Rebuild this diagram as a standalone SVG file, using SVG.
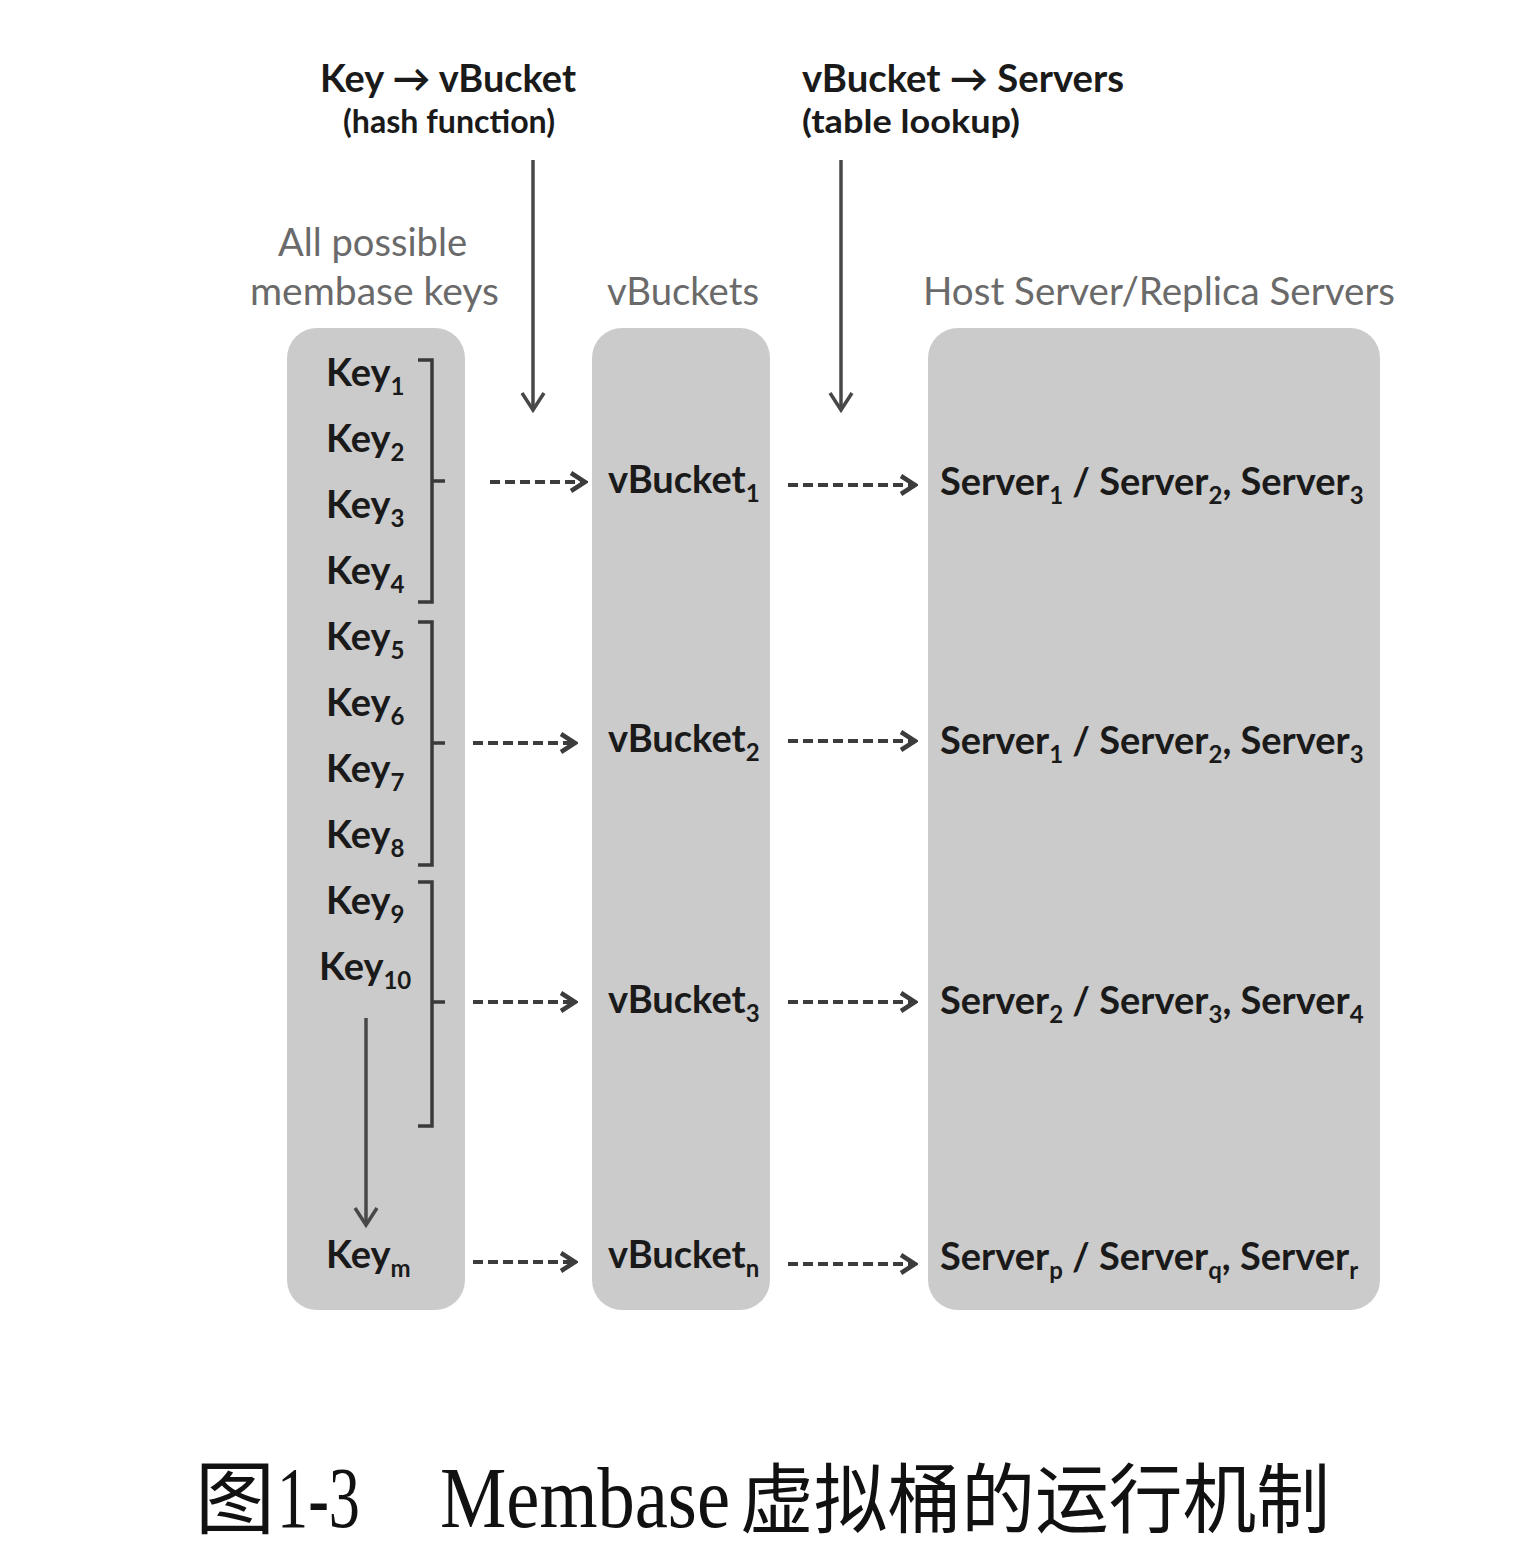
<svg xmlns="http://www.w3.org/2000/svg" width="1524" height="1552" viewBox="0 0 1524 1552">
<defs>
<style>
.panel{fill:#cbcbcb;}
.hdr{font-family:Lato,"Liberation Sans",sans-serif;font-weight:bold;fill:#1a1a1a;}
.ttl{font-family:Lato,"Liberation Sans",sans-serif;fill:#6a6a6a;font-size:38px;}
.lbl{font-family:Lato,"Liberation Sans",sans-serif;font-weight:bold;fill:#1a1a1a;font-size:38px;}
.sub{font-size:24px;}
.solid{stroke:#484848;stroke-width:3.5;fill:none;}
.dash{stroke:#3c3c3c;stroke-width:4;fill:none;stroke-dasharray:10 5;}
.brk{stroke:#3a3a3a;stroke-width:3.5;fill:none;}
.cap{font-family:"Liberation Serif","Noto Sans CJK SC",serif;fill:#111;}
</style>
<marker id="chev" viewBox="0 0 24 24" refX="21" refY="12" markerWidth="24" markerHeight="24" markerUnits="userSpaceOnUse" orient="auto">
<polyline points="7,3 21,12 7,21" fill="none" stroke="#3c3c3c" stroke-width="4.5"/>
</marker>
<marker id="chevV" viewBox="0 0 28 28" refX="25" refY="14" markerWidth="28" markerHeight="28" markerUnits="userSpaceOnUse" orient="auto">
<polyline points="8,3 25,14 8,25" fill="none" stroke="#484848" stroke-width="3.5"/>
</marker>
</defs>
<rect width="1524" height="1552" fill="#fff"/>

<g id="header-hash">
<text class="hdr" x="320" y="92" font-size="38" textLength="256" lengthAdjust="spacingAndGlyphs">Key → vBucket</text>
<text class="hdr" x="343" y="133" font-size="33" textLength="212" lengthAdjust="spacingAndGlyphs">(hash function)</text>
</g>
<g id="header-lookup">
<text class="hdr" x="802" y="92" font-size="38" textLength="322" lengthAdjust="spacingAndGlyphs">vBucket → Servers</text>
<text class="hdr" x="802" y="133" font-size="33" textLength="218" lengthAdjust="spacingAndGlyphs">(table lookup)</text>
</g>

<g id="keys-panel">
<text class="ttl" x="278" y="256" textLength="189" lengthAdjust="spacingAndGlyphs">All possible</text>
<text class="ttl" x="250" y="305" textLength="249" lengthAdjust="spacingAndGlyphs">membase keys</text>
<rect class="panel" x="287" y="328" width="178" height="982" rx="30"/>
<text class="lbl" x="326" y="386">Key<tspan class="sub" dy="9">1</tspan></text>
<text class="lbl" x="326" y="452">Key<tspan class="sub" dy="9">2</tspan></text>
<text class="lbl" x="326" y="518">Key<tspan class="sub" dy="9">3</tspan></text>
<text class="lbl" x="326" y="584">Key<tspan class="sub" dy="9">4</tspan></text>
<text class="lbl" x="326" y="650">Key<tspan class="sub" dy="9">5</tspan></text>
<text class="lbl" x="326" y="716">Key<tspan class="sub" dy="9">6</tspan></text>
<text class="lbl" x="326" y="782">Key<tspan class="sub" dy="9">7</tspan></text>
<text class="lbl" x="326" y="848">Key<tspan class="sub" dy="9">8</tspan></text>
<text class="lbl" x="326" y="914">Key<tspan class="sub" dy="9">9</tspan></text>
<text class="lbl" x="319" y="980">Key<tspan class="sub" dy="9">10</tspan></text>
<text class="lbl" x="326" y="1268">Key<tspan class="sub" dy="9">m</tspan></text>
<path class="brk" d="M418,360 H432 V602 H418 M432,481 H445"/>
<path class="brk" d="M418,622 H432 V865 H418 M432,743 H445"/>
<path class="brk" d="M418,882 H432 V1126 H418 M432,1002 H445"/>
</g>

<g id="vbuckets-panel">
<text class="ttl" x="607" y="305" textLength="152" lengthAdjust="spacingAndGlyphs">vBuckets</text>
<rect class="panel" x="592" y="328" width="178" height="982" rx="30"/>
<text class="lbl" x="608" y="493">vBucket<tspan class="sub" dy="9">1</tspan></text>
<text class="lbl" x="608" y="752">vBucket<tspan class="sub" dy="9">2</tspan></text>
<text class="lbl" x="608" y="1013">vBucket<tspan class="sub" dy="9">3</tspan></text>
<text class="lbl" x="608" y="1268">vBucket<tspan class="sub" dy="9">n</tspan></text>
</g>

<g id="servers-panel">
<text class="ttl" x="923" y="305" textLength="472" lengthAdjust="spacingAndGlyphs">Host Server/Replica Servers</text>
<rect class="panel" x="928" y="328" width="452" height="982" rx="30"/>
<text class="lbl" x="940" y="495">Server<tspan class="sub" dy="9">1</tspan><tspan dy="-9"> / Server</tspan><tspan class="sub" dy="9">2</tspan><tspan dy="-9">, Server</tspan><tspan class="sub" dy="9">3</tspan></text>
<text class="lbl" x="940" y="754">Server<tspan class="sub" dy="9">1</tspan><tspan dy="-9"> / Server</tspan><tspan class="sub" dy="9">2</tspan><tspan dy="-9">, Server</tspan><tspan class="sub" dy="9">3</tspan></text>
<text class="lbl" x="940" y="1014">Server<tspan class="sub" dy="9">2</tspan><tspan dy="-9"> / Server</tspan><tspan class="sub" dy="9">3</tspan><tspan dy="-9">, Server</tspan><tspan class="sub" dy="9">4</tspan></text>
<text class="lbl" x="940" y="1270">Server<tspan class="sub" dy="9">p</tspan><tspan dy="-9"> / Server</tspan><tspan class="sub" dy="9">q</tspan><tspan dy="-9">, Server</tspan><tspan class="sub" dy="9">r</tspan></text>
</g>

<g id="connectors">
<line class="solid" x1="533" y1="160" x2="533" y2="410" marker-end="url(#chevV)"/>
<line class="solid" x1="841" y1="160" x2="841" y2="410" marker-end="url(#chevV)"/>
<line class="solid" x1="366" y1="1018" x2="366" y2="1225" marker-end="url(#chevV)"/>
<line class="dash" x1="490" y1="482" x2="585" y2="482" marker-end="url(#chev)"/>
<line class="dash" x1="473" y1="743" x2="575" y2="743" marker-end="url(#chev)"/>
<line class="dash" x1="473" y1="1002" x2="575" y2="1002" marker-end="url(#chev)"/>
<line class="dash" x1="473" y1="1262" x2="575" y2="1262" marker-end="url(#chev)"/>
<line class="dash" x1="788" y1="485" x2="915" y2="485" marker-end="url(#chev)"/>
<line class="dash" x1="788" y1="741" x2="915" y2="741" marker-end="url(#chev)"/>
<line class="dash" x1="788" y1="1002" x2="915" y2="1002" marker-end="url(#chev)"/>
<line class="dash" x1="788" y1="1264" x2="915" y2="1264" marker-end="url(#chev)"/>
</g>

<g id="caption">
<text class="cap" x="195" y="1527" font-size="80">图</text>
<text class="cap" x="277" y="1527" font-size="86" textLength="83" lengthAdjust="spacingAndGlyphs">1-3</text>
<text class="cap" x="440" y="1527" font-size="86" textLength="290" lengthAdjust="spacingAndGlyphs">Membase</text>
<text class="cap" x="740" y="1527" font-size="76" textLength="590" lengthAdjust="spacingAndGlyphs">虚拟桶的运行机制</text>
</g>
</svg>
